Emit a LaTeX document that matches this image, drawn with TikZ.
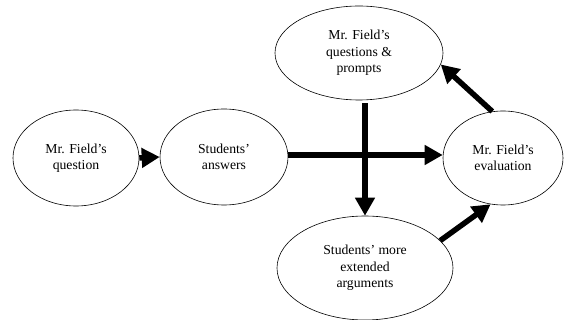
\documentclass[tikz,border=0pt]{standalone}
\usepackage{fontspec}
\setmainfont{Liberation Serif}
\usetikzlibrary{shapes.geometric,arrows.meta}
\begin{document}
\begin{tikzpicture}[x=1pt,y=1pt,
  oval/.style={ellipse,draw,line width=0.6pt,inner sep=0pt,align=center,
    font=\fontsize{13.7}{16.5}\selectfont},
  bigarrow/.style={line width=5.5pt,-{Triangle[length=18pt,width=19pt]}}]
\useasboundingbox (0,0) rectangle (565,-320);
\node[oval,minimum width=126,minimum height=96] (q) at (76,-158) {Mr. Field's\\question};
\node[oval,minimum width=128,minimum height=96] (ans) at (224,-157) {Students'\\answers};
\node[oval,minimum width=168,minimum height=94] (pr) at (359,-53) {Mr. Field's\\questions \&\\prompts};
\node[oval,minimum width=120,minimum height=94] (ev) at (503,-158) {Mr. Field's\\evaluation};
\node[oval,minimum width=176,minimum height=104] (ar) at (365,-268) {Students' more\\extended\\arguments};
\draw[bigarrow] (q.east) -- (ans.west);
\draw[bigarrow] (ans.east |- 0,-155) -- (ev.west |- 0,-155);
\draw[bigarrow] ([yshift=-3pt]pr.south -| ar.north) -- (ar.north);
\draw[bigarrow] (ev.103) -- (pr.-8);
\draw[bigarrow] (ar.20) -- (ev.255);
\end{tikzpicture}
\end{document}
